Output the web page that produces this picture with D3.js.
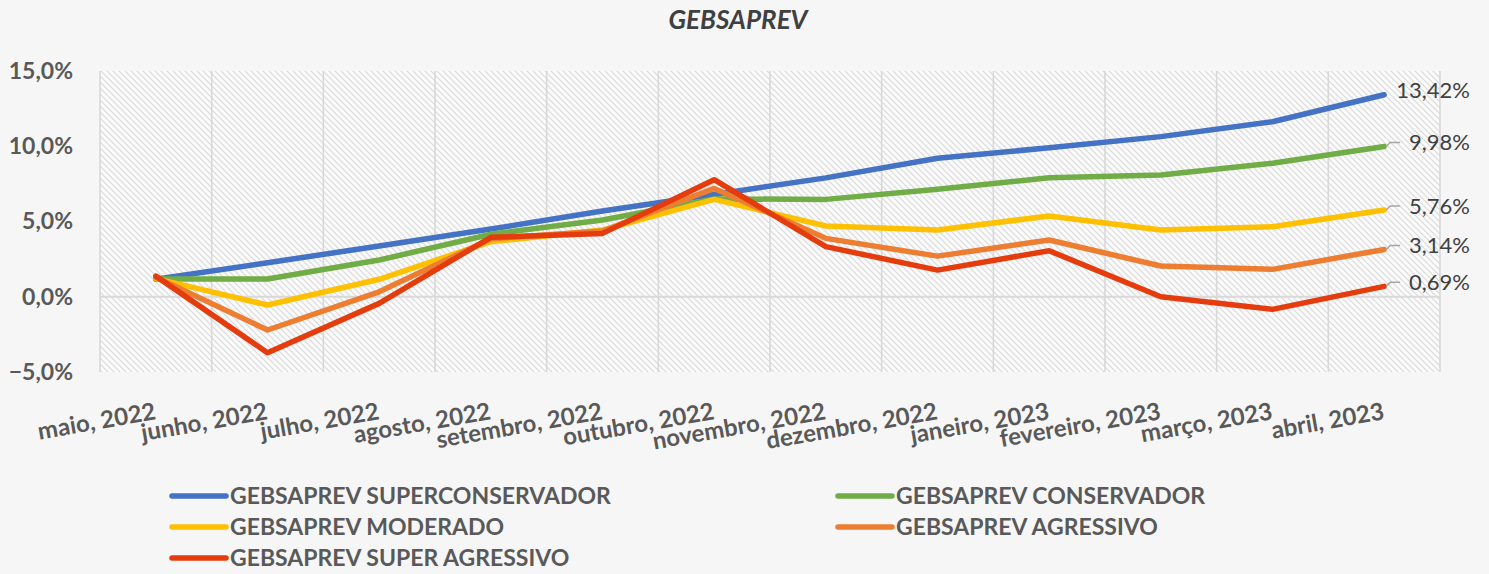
<!DOCTYPE html>
<html>
<head>
<meta charset="utf-8">
<script src="https://cdn.jsdelivr.net/npm/d3@7"></script>
<style>
  body { margin: 0; background: #f6f6f6; }
  svg { display: block; font-family: Lato, "Open Sans", sans-serif; }
</style>
</head>
<body>
<div id="chart"></div>
<script>
var months = ["maio, 2022", "junho, 2022", "julho, 2022", "agosto, 2022", "setembro, 2022", "outubro, 2022",
              "novembro, 2022", "dezembro, 2022", "janeiro, 2023", "fevereiro, 2023", "março, 2023", "abril, 2023"];

var seriesNames = ["GEBSAPREV SUPERCONSERVADOR", "GEBSAPREV CONSERVADOR", "GEBSAPREV MODERADO",
                   "GEBSAPREV AGRESSIVO", "GEBSAPREV SUPER AGRESSIVO"];
var seriesColors = ["#4472c4", "#70ad47", "#ffc000", "#ed7d31", "#e53c0e"];

var superConservador = [1.16, 2.26, 3.37, 4.50, 5.70, 6.80, 7.90, 9.20, 9.90, 10.64, 11.63, 13.42];
var conservador      = [1.18, 1.18, 2.44, 4.15, 5.10, 6.50, 6.47, 7.15, 7.90, 8.09, 8.87, 9.98];
var moderado         = [1.20, -0.55, 1.16, 3.66, 4.43, 6.47, 4.70, 4.43, 5.37, 4.43, 4.65, 5.76];
var agressivo        = [1.30, -2.21, 0.33, 3.85, 4.37, 7.20, 3.88, 2.70, 3.77, 2.04, 1.82, 3.14];
var superAgressivo   = [1.37, -3.72, -0.44, 3.95, 4.21, 7.78, 3.33, 1.77, 3.06, 0.00, -0.84, 0.69];

var yTicks = [-5, 0, 5, 10, 15];

var allSeries = [superConservador, conservador, moderado, agressivo, superAgressivo];

var W = 1489, H = 574;
var plot = {left: 100, right: 1440, top: 71, bottom: 372};

var ptBR = d3.formatLocale({decimal: ",", thousands: ".", grouping: [3], currency: ["R$", ""]});
var fmtAxis = ptBR.format(".1f"), fmtLabel = ptBR.format(".2f");

var svg = d3.select("#chart").append("svg")
    .attr("width", W)
    .attr("height", H);

svg.append("rect").attr("width", W).attr("height", H).attr("fill", "#f6f6f6");

// hatch pattern for plot area
var defs = svg.append("defs");
var pat = defs.append("pattern")
    .attr("id", "hatch")
    .attr("patternUnits", "userSpaceOnUse")
    .attr("width", 6).attr("height", 6);
pat.append("rect").attr("width", 6).attr("height", 6).attr("fill", "#fbfbfb");
pat.append("path")
    .attr("d", "M-1,-1 L7,7 M-1,5 L1,7 M5,-1 L7,1")
    .attr("stroke", "#dadada")
    .attr("stroke-width", 1.2);

var x = d3.scaleBand().domain(months).range([plot.left, plot.right]);
var y = d3.scaleLinear().domain([-5, 15]).range([plot.bottom, plot.top]);
var cx = function(m) { return x(m) + x.bandwidth() / 2; };

svg.append("rect")
    .attr("x", plot.left).attr("y", plot.top)
    .attr("width", plot.right - plot.left).attr("height", plot.bottom - plot.top)
    .attr("fill", "url(#hatch)");

// vertical gridlines at category boundaries
var bounds = months.map(function(m) { return x(m); }).concat([plot.right]);
svg.append("g").selectAll("line")
    .data(bounds)
    .enter().append("line")
    .attr("x1", function(d) { return d; }).attr("x2", function(d) { return d; })
    .attr("y1", plot.top).attr("y2", plot.bottom)
    .attr("stroke", "#d9d9d9")
    .attr("stroke-width", 1.6);

// zero line
svg.append("line")
    .attr("x1", plot.left).attr("x2", plot.right)
    .attr("y1", y(0)).attr("y2", y(0))
    .attr("stroke", "#d9d9d9")
    .attr("stroke-width", 2);

// y axis labels
var yAxis = d3.axisLeft(y).tickValues(yTicks).tickSize(0).tickPadding(27)
    .tickFormat(function(d) { return fmtAxis(d) + "%"; });
var gy = svg.append("g").attr("transform", "translate(" + plot.left + ",0)").call(yAxis);
gy.select(".domain").remove();
gy.selectAll("text")
    .attr("font-family", "Lato, 'Open Sans', sans-serif")
    .attr("font-size", 23).attr("font-weight", "bold").attr("fill", "#595959");

// x axis labels, slanted
var xAxis = d3.axisBottom(x).tickSize(0);
var gx = svg.append("g").attr("transform", "translate(0," + plot.bottom + ")").call(xAxis);
gx.select(".domain").remove();
gx.selectAll("text")
    .attr("x", 0).attr("y", 0).attr("dy", 0)
    .attr("text-anchor", "end")
    .attr("transform", "translate(1,47) rotate(-10)")
    .attr("font-family", "Lato, 'Open Sans', sans-serif")
    .attr("font-size", 24).attr("font-weight", "bold").attr("fill", "#595959");

// lines
var line = d3.line()
    .x(function(d, i) { return cx(months[i]); })
    .y(function(d) { return y(d); });

svg.append("g").selectAll("path")
    .data(allSeries)
    .enter().append("path")
    .attr("d", line)
    .attr("fill", "none")
    .attr("stroke", function(d, i) { return seriesColors[i]; })
    .attr("stroke-width", 5.5)
    .attr("stroke-linejoin", "round")
    .attr("stroke-linecap", "round");

// end labels
var last = months.length - 1;
var lbl = svg.append("g").selectAll("g")
    .data(allSeries)
    .enter().append("g");
lbl.filter(function(d, i) { return i > 0; }).append("path")
    .attr("d", function(d) {
        var px = cx(months[last]), py = y(d[last]), ly = py - 4;
        return "M" + (px + 2) + "," + py + " L" + (px + 6) + "," + ly + " L" + (px + 16) + "," + ly;
    })
    .attr("fill", "none")
    .attr("stroke", "#a6a6a6")
    .attr("stroke-width", 1.5);
lbl.append("text")
    .attr("x", 1470)
    .attr("y", function(d) { return y(d[last]) - 4; })
    .attr("dy", "0.35em")
    .attr("text-anchor", "end")
    .attr("font-size", 22)
    .attr("fill", "#404040")
    .text(function(d) { return fmtLabel(d[last]) + "%"; });

// title
svg.append("text")
    .attr("x", 738).attr("y", 29)
    .attr("text-anchor", "middle")
    .attr("font-size", 26).attr("font-weight", "bold").attr("font-style", "italic")
    .attr("fill", "#404040")
    .text("GEBSAPREV");

// legend
var legendPos = [[170, 496], [836, 496], [170, 527], [836, 527], [170, 558]];
var leg = svg.append("g").selectAll("g")
    .data(seriesNames)
    .enter().append("g")
    .attr("transform", function(d, i) { return "translate(" + legendPos[i][0] + "," + legendPos[i][1] + ")"; });
leg.append("line")
    .attr("x1", 2).attr("x2", 56)
    .attr("stroke", function(d, i) { return seriesColors[i]; })
    .attr("stroke-width", 5.5)
    .attr("stroke-linecap", "round");
leg.append("text")
    .attr("x", 60).attr("dy", "0.35em")
    .attr("font-size", 23).attr("font-weight", "bold")
    .attr("fill", "#595959")
    .text(function(d) { return d; });
</script>
</body>
</html>
